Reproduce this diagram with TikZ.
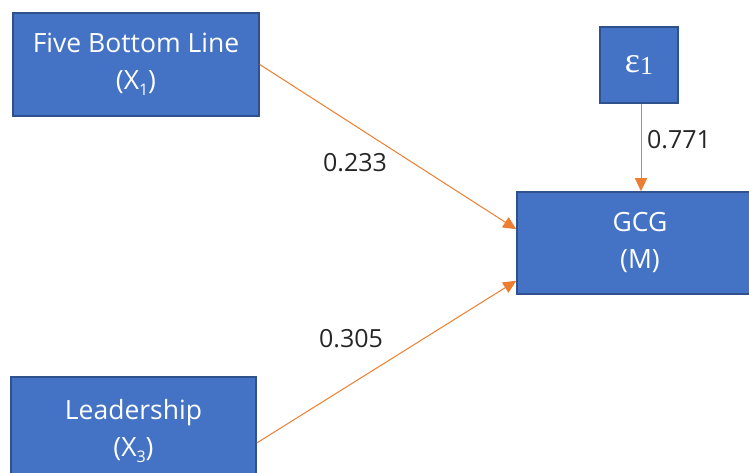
\documentclass[tikz,border=0pt]{standalone}
\usepackage{fontspec}
\setmainfont{Open Sans}
\newfontfamily\grkfont{Liberation Serif}
\usetikzlibrary{arrows.meta,calc}
\definecolor{boxblue}{HTML}{4472C4}
\definecolor{boxedge}{HTML}{2F528F}
\definecolor{pathorange}{HTML}{ED7D31}
\newcommand{\lowsub}[1]{\raisebox{-0.22em}{\fontsize{16}{16}\selectfont #1}}
\begin{document}
\begin{tikzpicture}[x=1pt,y=-1pt,
  varbox/.style={draw=boxedge, line width=1.5pt, fill=boxblue, text=white,
    font=\fontsize{26.5}{37}\selectfont, align=center, inner sep=0pt},
  coef/.style={font=\fontsize{25}{34}\selectfont, inner sep=0pt, text=black!85},
  link/.style={draw=pathorange, line width=1pt,
    -{Triangle[length=13pt,width=12pt]}}]
  \clip (0,0) rectangle (749,473);
  \fill[white] (0,0) rectangle (749,473);

  % variables
  \node[varbox, minimum width=246pt, minimum height=103pt] (five) at (136,64.5)
    {Five Bottom Line\\(X\lowsub{1})};
  \node[varbox, minimum width=78pt, minimum height=76pt] (eps) at (639,65)
    {\grkfont\fontsize{36}{40}\selectfont ε\raisebox{-0.05em}{\fontsize{26}{26}\selectfont 1}};
  \node[varbox, minimum width=246pt, minimum height=102pt] (gcg) at (640,243)
    {GCG\\(M)};
  \node[varbox, minimum width=245pt, minimum height=108pt] (lead) at (133.5,431)
    {Leadership\\(X\lowsub{3})};

  % paths
  \draw[link] (five.east) -- ([yshift=-38pt]gcg.north west);
  \draw[link] ([yshift=-12pt]lead.east) -- ([yshift=14pt]gcg.south west);
  \draw[link] ([xshift=2pt]eps.south) -- ([xshift=2pt]eps.south |- gcg.north);

  % path coefficients
  \node[coef] (c1) at (355,163) {0.233};
  \node[coef] (c2) at (351,339) {0.305};
  \node[coef] (c3) at (679,140) {0.771};
\end{tikzpicture}
\end{document}
